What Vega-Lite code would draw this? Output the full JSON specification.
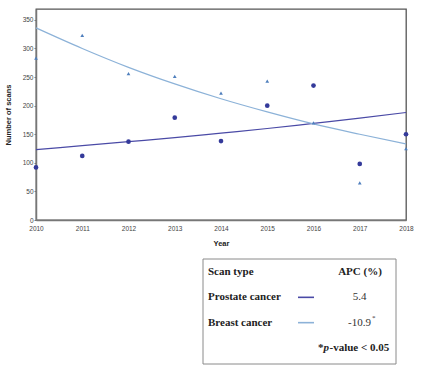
{
  "$schema": "https://vega.github.io/schema/vega-lite/v6.json",
  "padding": {"left": 3, "top": 8, "right": 5, "bottom": 2},
  "background": "white",
  "spacing": 10,
  "config": {
    "view": {"stroke": "#555555", "strokeWidth": 1.3},
    "axis": {"grid": false, "labelFont": "Liberation Sans", "labelFontSize": 6.5, "labelColor": "#444444", "titleFont": "Liberation Sans", "titleFontSize": 7.5, "titleFontWeight": "bold", "titleColor": "#222222", "domainColor": "#777777", "domainWidth": 1.5, "tickColor": "#777777", "labelOverlap": false}
  },
  "datasets": {
    "scans": [
      {"year": 2010, "series": "Prostate cancer", "scans": 92, "fit": 123},
      {"year": 2011, "series": "Prostate cancer", "scans": 112, "fit": 130},
      {"year": 2012, "series": "Prostate cancer", "scans": 137, "fit": 137},
      {"year": 2013, "series": "Prostate cancer", "scans": 179, "fit": 144},
      {"year": 2014, "series": "Prostate cancer", "scans": 138, "fit": 152},
      {"year": 2015, "series": "Prostate cancer", "scans": 200, "fit": 160},
      {"year": 2016, "series": "Prostate cancer", "scans": 235, "fit": 169},
      {"year": 2017, "series": "Prostate cancer", "scans": 98, "fit": 178},
      {"year": 2018, "series": "Prostate cancer", "scans": 150, "fit": 188},
      {"year": 2010, "series": "Breast cancer", "scans": 283, "fit": 336},
      {"year": 2011, "series": "Breast cancer", "scans": 323, "fit": 300},
      {"year": 2012, "series": "Breast cancer", "scans": 256, "fit": 267},
      {"year": 2013, "series": "Breast cancer", "scans": 251, "fit": 238},
      {"year": 2014, "series": "Breast cancer", "scans": 222, "fit": 212},
      {"year": 2015, "series": "Breast cancer", "scans": 243, "fit": 189},
      {"year": 2016, "series": "Breast cancer", "scans": 170, "fit": 168},
      {"year": 2017, "series": "Breast cancer", "scans": 65, "fit": 150},
      {"year": 2018, "series": "Breast cancer", "scans": 125, "fit": 133}
    ],
    "legend": [
      {"row": "head", "label": "Scan type", "apc": "APC (%)"},
      {"row": "Prostate cancer", "label": "Prostate cancer", "apc": "5.4"},
      {"row": "Breast cancer", "label": "Breast cancer", "apc": "-10.9"}
    ]
  },
  "vconcat": [
    {
      "width": 370,
      "height": 211,
      "data": {"name": "scans"},
      "encoding": {
        "x": {"field": "year", "type": "quantitative", "title": "Year",
          "scale": {"domain": [2010, 2018], "nice": false, "zero": false},
          "axis": {"values": [2010, 2011, 2012, 2013, 2014, 2015, 2016, 2017, 2018], "format": "d", "ticks": false, "labelPadding": 5, "titlePadding": 8, "labelFlush": false}}
      },
      "layer": [
        {
          "mark": {"type": "line", "interpolate": "monotone", "strokeWidth": 1.2},
          "encoding": {
            "y": {"field": "fit", "type": "quantitative", "title": "Number of scans",
              "scale": {"domain": [0, 369], "nice": false},
              "axis": {"values": [0, 50, 100, 150, 200, 250, 300, 350], "tickSize": 2, "labelPadding": 1, "minExtent": 22, "maxExtent": 22, "titlePadding": 2}},
            "color": {"field": "series", "type": "nominal", "legend": null,
              "scale": {"domain": ["Prostate cancer", "Breast cancer"], "range": ["#4a4aa6", "#8cb2d8"]}}
          }
        },
        {
          "mark": {"type": "point", "filled": true, "opacity": 1},
          "encoding": {
            "y": {"field": "scans", "type": "quantitative", "title": "Number of scans",
              "axis": {"values": [0, 50, 100, 150, 200, 250, 300, 350], "tickSize": 2, "labelPadding": 1, "minExtent": 22, "maxExtent": 22, "titlePadding": 2}},
            "shape": {"field": "series", "type": "nominal", "legend": null,
              "scale": {"domain": ["Prostate cancer", "Breast cancer"], "range": ["circle", "triangle-up"]}},
            "size": {"field": "series", "type": "nominal", "legend": null,
              "scale": {"domain": ["Prostate cancer", "Breast cancer"], "range": [22, 14]}},
            "fill": {"field": "series", "type": "nominal", "legend": null,
              "scale": {"domain": ["Prostate cancer", "Breast cancer"], "range": ["#343a9a", "#4f7fbd"]}}
          }
        }
      ]
    },
    {
      "width": 372,
      "height": 105,
      "view": {"stroke": null},
      "layer": [
        {
          "data": {"values": [{"box": 1}]},
          "mark": {"type": "rect", "fill": "transparent", "stroke": "#8a8a8a", "strokeWidth": 1},
          "encoding": {
            "x": {"datum": 167, "type": "quantitative", "scale": {"domain": [0, 372], "nice": false, "zero": true}, "axis": null},
            "x2": {"datum": 360}
          }
        },
        {
          "data": {"name": "legend"},
          "encoding": {
            "y": {"field": "row", "type": "ordinal", "axis": null,
              "scale": {"type": "point", "domain": ["head", "Prostate cancer", "Breast cancer", "note"], "range": [13, 89], "padding": 0}}
          },
          "layer": [
            {
              "mark": {"type": "text", "align": "left", "baseline": "middle", "font": "Liberation Serif", "fontSize": 11, "fontWeight": "bold", "color": "#222222"},
              "encoding": {"x": {"datum": 172, "type": "quantitative"}, "text": {"field": "label"}}
            },
            {
              "transform": [{"filter": "datum.row === 'head'"}],
              "mark": {"type": "text", "align": "center", "baseline": "middle", "font": "Liberation Serif", "fontSize": 11, "fontWeight": "bold", "color": "#222222"},
              "encoding": {"x": {"datum": 324, "type": "quantitative"}, "text": {"field": "apc"}}
            },
            {
              "transform": [{"filter": "datum.row !== 'head'"}],
              "mark": {"type": "text", "align": "center", "baseline": "middle", "font": "Liberation Serif", "fontSize": 11, "color": "#333333"},
              "encoding": {"x": {"datum": 323.5, "type": "quantitative"}, "text": {"field": "apc"}}
            },
            {
              "transform": [{"filter": "datum.row === 'Breast cancer'"}],
              "mark": {"type": "text", "align": "left", "baseline": "middle", "font": "Liberation Serif", "fontSize": 7, "dy": -5, "color": "#333333", "text": "*"},
              "encoding": {"x": {"datum": 336, "type": "quantitative"}}
            },
            {
              "transform": [{"filter": "datum.row !== 'head'"}],
              "mark": {"type": "rule", "strokeWidth": 1.6},
              "encoding": {
                "x": {"datum": 262, "type": "quantitative"},
                "x2": {"datum": 278},
                "color": {"field": "row", "type": "nominal", "legend": null,
                  "scale": {"domain": ["Prostate cancer", "Breast cancer"], "range": ["#3c48a8", "#8cb2d8"]}}
              }
            }
          ]
        },
        {
          "data": {"values": [{"row": "note", "part": "*", "pos": "a"}, {"row": "note", "part": "p", "pos": "b"}, {"row": "note", "part": "-value < 0.05", "pos": "c"}]},
          "layer": [
            {
              "transform": [{"filter": "datum.pos === 'a'"}],
              "mark": {"type": "text", "align": "left", "baseline": "middle", "font": "Liberation Serif", "fontSize": 11, "fontWeight": "bold", "color": "#222222"},
              "encoding": {"x": {"datum": 282, "type": "quantitative"}, "y": {"field": "row", "type": "ordinal"}, "text": {"field": "part"}}
            },
            {
              "transform": [{"filter": "datum.pos === 'b'"}],
              "mark": {"type": "text", "align": "left", "baseline": "middle", "font": "Liberation Serif", "fontSize": 11, "fontWeight": "bold", "fontStyle": "italic", "color": "#222222"},
              "encoding": {"x": {"datum": 287.5, "type": "quantitative"}, "y": {"field": "row", "type": "ordinal"}, "text": {"field": "part"}}
            },
            {
              "transform": [{"filter": "datum.pos === 'c'"}],
              "mark": {"type": "text", "align": "left", "baseline": "middle", "font": "Liberation Serif", "fontSize": 11, "fontWeight": "bold", "color": "#222222"},
              "encoding": {"x": {"datum": 293.5, "type": "quantitative"}, "y": {"field": "row", "type": "ordinal"}, "text": {"field": "part"}}
            }
          ]
        }
      ]
    }
  ]
}
